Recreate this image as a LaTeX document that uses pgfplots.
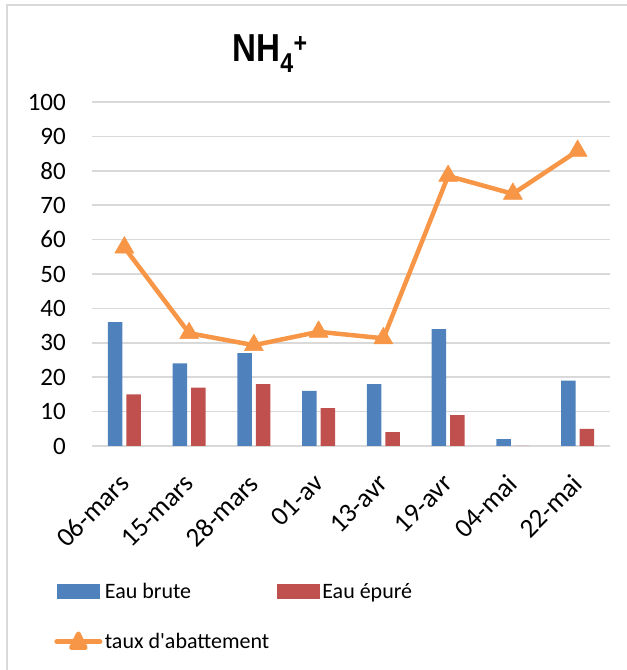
\documentclass[border=0pt]{standalone}
\usepackage{fontspec}
\setmainfont{Carlito}
\newfontfamily\titlefont{Liberation Sans}
\usepackage{graphicx}
\usepackage{pgfplots}
\pgfplotsset{compat=1.18}
\definecolor{cblue}{HTML}{4F81BD}
\definecolor{cred}{HTML}{C0504D}
\definecolor{corange}{HTML}{F79646}
\definecolor{cgrid}{HTML}{D9D9D9}
\begin{document}
\begin{tikzpicture}
\begin{scope}[x=1bp,y=1bp]
\path[use as bounding box] (0,0) rectangle (627,670);
\draw[cgrid, line width=2bp] (7,0) -- (7,665) -- (627,665);
\node[anchor=base, font=\titlefont\bfseries\fontsize{39bp}{41bp}\selectfont] at (270,608) {\scalebox{0.85}[1]{NH\textsubscript{4}\textsuperscript{+}}};
\end{scope}
\begin{axis}[
  at={(92bp,224bp)}, anchor=south west,
  width=518bp, height=344bp, scale only axis,
  xmin=-0.5, xmax=7.5, ymin=0, ymax=100,
  ytick={0,10,...,100},
  xtick={0,...,7},
  xticklabels={06-mars,15-mars,28-mars,01-av,13-avr,19-avr,04-mai,22-mai},
  ymajorgrids, grid style={cgrid, line width=1.6bp},
  axis line style={draw=none},
  major tick length=0pt,
  tick label style={font=\fontsize{25bp}{30bp}\selectfont},
  /pgf/number format/assume math mode=true,
  yticklabel style={anchor=east, inner sep=0pt},
  yticklabel shift=26bp,
  xticklabel style={inner sep=0pt, anchor=east, rotate=45, font=\fontsize{27bp}{30bp}\selectfont},
  xticklabel shift=33bp,
  clip=false,
  legend columns=2,
  legend style={at={(axis description cs:-0.073,-0.392)}, anchor=north west, draw=none, fill=none,
    inner sep=0pt, font=\fontsize{22bp}{26bp}\selectfont, row sep=28bp,
    nodes={inner sep=2.5bp},
    /tikz/every even column/.append style={column sep=5bp}},
  legend cell align=left,
]
\addplot[ybar, bar width=14.5bp, bar shift=-9.3bp, fill=cblue, draw=none,
  legend image code/.code={\fill[cblue] (0bp,-7.5bp) rectangle (43bp,7.5bp);}]
  coordinates {(0,36)(1,24)(2,27)(3,16)(4,18)(5,34)(6,2)(7,19)};
\addlegendentry{Eau brute}
\addplot[ybar, bar width=14.5bp, bar shift=9.3bp, fill=cred, draw=none,
  legend image code/.code={\fill[cred] (0bp,-7.5bp) rectangle (43bp,7.5bp);}]
  coordinates {(0,15)(1,17)(2,18)(3,11)(4,4)(5,9)(6,0)(7,5)};
\addlegendentry{Eau épuré}
\addplot[corange, line width=4.5bp, line join=round, mark=triangle*, mark size=11bp,
  mark options={line width=0.5bp, fill=corange},
  legend image code/.code={\draw[corange, line width=5bp, line cap=round] (0bp,0bp) -- (43bp,0bp);
    \fill[corange] (21.5bp,8bp) -- (14.5bp,-6bp) -- (28.5bp,-6bp) -- cycle;}]
  coordinates {(0,57.7)(1,32.8)(2,29.3)(3,33.2)(4,31.3)(5,78.5)(6,73.3)(7,85.8)};
\addlegendentry{taux d\textquotesingle abattement}
\end{axis}
\end{tikzpicture}
\end{document}
